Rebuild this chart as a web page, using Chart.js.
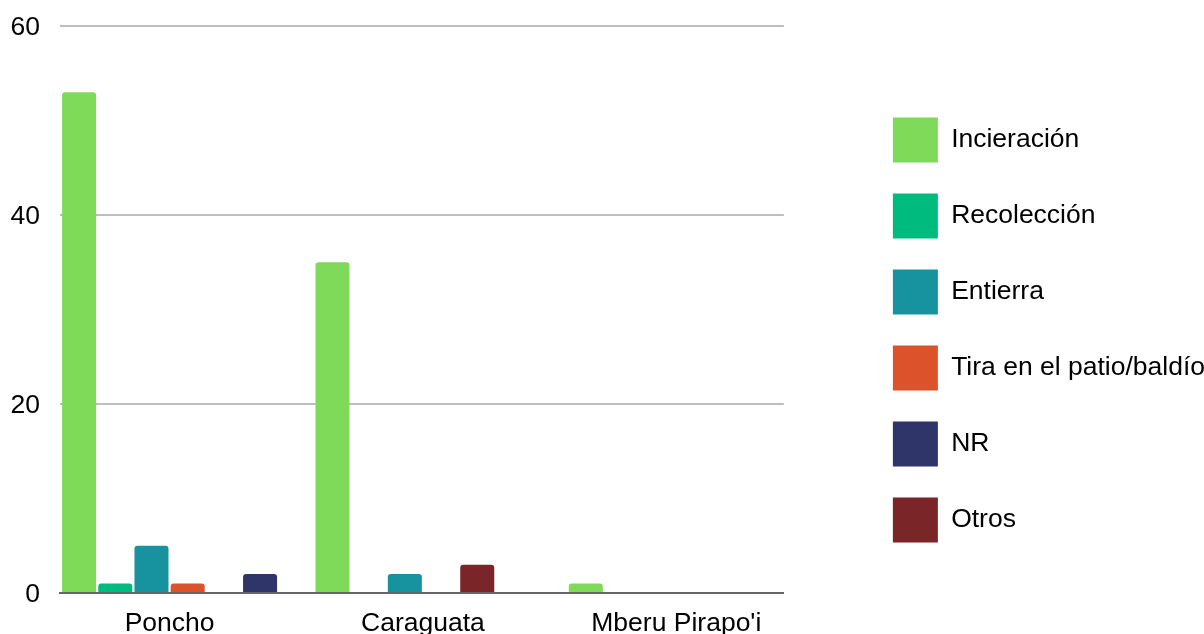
<!DOCTYPE html>
<html>
<head>
<meta charset="utf-8">
<script src="https://cdn.jsdelivr.net/npm/chart.js@4.4.0/dist/chart.umd.min.js"></script>
<style>
  html, body { margin: 0; padding: 0; background: #fff; }
  #wrap { width: 1204px; height: 634px; }
</style>
</head>
<body>
<div id="wrap"><canvas id="c" width="1204" height="634"></canvas></div>
<script>
const categories = ["Poncho", "Caraguata", "Mberu Pirapo'i"];
const seriesNames = ["Incieración", "Recolección", "Entierra", "Tira en el patio/baldío", "Otros", "NR"];
const incieracion = [53, 35, 1];
const recoleccion = [1, 0, 0];
const entierra = [5, 2, 0];
const tira = [1, 0, 0];
const otros = [0, 3, 0];
const nr = [2, 0, 0];
const yTicks = [0, 20, 40, 60];

const seriesValues = [incieracion, recoleccion, entierra, tira, otros, nr];
const colors = ["#7fda5a", "#00bb7e", "#17939f", "#dc532b", "#7a2629", "#2f3469"];
const legendOrder = [0, 1, 2, 3, 5, 4];

const FONT = "'Liberation Sans', Arial, sans-serif";
const FS = 26.5;

const datasets = seriesValues.map((vals, k) => ({
  label: seriesNames[k],
  data: vals.map((v, i) => ({ x: i, y: v })),
  backgroundColor: colors[k],
  borderWidth: 0,
  borderRadius: { topLeft: 3, topRight: 3, bottomLeft: 0, bottomRight: 0 },
  borderSkipped: 'start',
  categoryPercentage: 6 / 7,
  barPercentage: 0.94
}));

new Chart(document.getElementById('c'), {
  type: 'bar',
  data: { datasets },
  options: {
    responsive: false,
    animation: false,
    devicePixelRatio: 1,
    layout: { padding: { top: 26, right: -11, bottom: 0, left: 0 } },
    plugins: {
      tooltip: { enabled: false },
      legend: {
        position: 'right',
        maxWidth: 560,
        labels: {
          boxWidth: 45,
          boxHeight: 45,
          padding: 31,
          color: '#000',
          font: { family: FONT, size: FS },
          sort: (a, b) => legendOrder.indexOf(a.datasetIndex) - legendOrder.indexOf(b.datasetIndex)
        }
      }
    },
    scales: {
      x: {
        type: 'linear',
        min: -0.4325,
        max: 2.4246,
        offset: false,
        grid: { display: false, offset: false, drawTicks: false },
        border: { display: true, color: '#666666', width: 2 },
        afterBuildTicks: s => { s.ticks = categories.map((c, i) => ({ value: i })); },
        afterFit: s => { s.height = 41; s.paddingLeft = 0; s.paddingRight = 0; },
        ticks: {
          autoSkip: false,
          maxRotation: 0,
          padding: 15,
          color: '#000',
          font: { family: FONT, size: FS },
          callback: v => categories[v]
        }
      },
      y: {
        min: 0,
        max: 60,
        position: 'left',
        grid: { color: '#bebebe', lineWidth: 2, drawTicks: false },
        border: { display: false },
        afterBuildTicks: s => { s.ticks = yTicks.map(v => ({ value: v })); },
        afterFit: s => { s.width = 60; s.paddingTop = 0; s.paddingBottom = 0; },
        ticks: {
          padding: 20,
          labelOffset: 2,
          color: '#000',
          font: { family: FONT, size: FS }
        }
      },
      yR: {
        type: 'linear',
        position: 'right',
        display: true,
        grid: { display: false, drawTicks: false },
        border: { display: false },
        ticks: { display: false },
        afterFit: s => { s.width = 78; s.paddingTop = 0; s.paddingBottom = 0; }
      }
    }
  }
});
</script>
</body>
</html>
